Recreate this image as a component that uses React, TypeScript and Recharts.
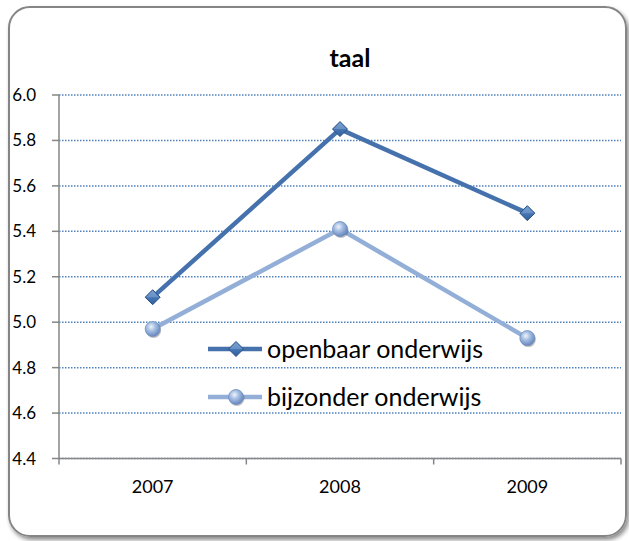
import { LineChart, Line, XAxis, YAxis, CartesianGrid, Legend } from "recharts";

const years = ["2007", "2008", "2009"];
const openbaar = [5.11, 5.85, 5.48];
const bijzonder = [4.97, 5.41, 4.93];
const yTicks = [4.4, 4.6, 4.8, 5.0, 5.2, 5.4, 5.6, 5.8, 6.0];

const series = [
  { key: "openbaar", name: "openbaar onderwijs", color: "#4572AD", marker: "diamond" },
  { key: "bijzonder", name: "bijzonder onderwijs", color: "#93AFD8", marker: "circle" },
];

const data = years.map((year, i) => ({
  year,
  openbaar: openbaar[i],
  bijzonder: bijzonder[i],
}));

const W = 629;
const H = 541;
const PLOT_LEFT = 59;
const PLOT_RIGHT = 621;
const HALF_BAND = (PLOT_RIGHT - PLOT_LEFT) / years.length / 2;

function Diamond({ cx, cy }: any) {
  if (cx == null || cy == null) return null;
  const s = 7.5;
  return (
    <g>
      <path
        d={`M${cx},${cy - s} L${cx + s},${cy} L${cx},${cy + s} L${cx - s},${cy} Z`}
        fill="url(#diamondFill)"
        stroke="#2a5485"
        strokeWidth={1}
      />
      <path
        d={`M${cx - s + 1},${cy} L${cx},${cy - s + 1} L${cx + s - 1},${cy} Z`}
        fill="rgba(255,255,255,0.18)"
      />
    </g>
  );
}

function Ball({ cx, cy }: any) {
  if (cx == null || cy == null) return null;
  return (
    <g>
      <circle cx={cx + 1} cy={cy + 1.5} r={7.5} fill="rgba(0,0,0,0.25)" />
      <circle cx={cx} cy={cy} r={7.5} fill="url(#ballFill)" stroke="#6f8fc2" strokeWidth={0.8} />
    </g>
  );
}

function Marker({ type, cx, cy }: any) {
  return type === "diamond" ? <Diamond cx={cx} cy={cy} /> : <Ball cx={cx} cy={cy} />;
}

// label at category centre, tick marks on the category boundaries
function XTick({ x, y, payload, index, visibleTicksCount }: any) {
  const last = index === visibleTicksCount - 1;
  return (
    <g>
      <line x1={x - HALF_BAND} x2={x - HALF_BAND} y1={y - 6} y2={y} stroke="#868686" strokeWidth={1.5} />
      {last && (
        <line x1={x + HALF_BAND} x2={x + HALF_BAND} y1={y - 6} y2={y} stroke="#868686" strokeWidth={1.5} />
      )}
      <text x={x} y={y} dy={28.5} textAnchor="middle" fontSize={18} fill="#000">
        {payload.value}
      </text>
    </g>
  );
}

function LegendBox() {
  return (
    <svg width={320} height={90}>
      {series.map((s, i) => {
        const cy = 17 + i * 48;
        return (
          <g key={s.key}>
            <line x1={3} x2={57} y1={cy} y2={cy} stroke={s.color} strokeWidth={4.5} />
            <Marker type={s.marker} cx={31} cy={cy} />
            <text x={62} y={cy} dy="0.35em" fontSize={25} fill="#000">
              {s.name}
            </text>
          </g>
        );
      })}
    </svg>
  );
}

export default function App() {
  return (
    <div style={{ position: "fixed", left: 0, top: 0, width: W, height: H, background: "#fff", fontFamily: "Lato, sans-serif" }}>
      <div
        style={{
          position: "absolute",
          left: 8,
          top: 6,
          width: 619,
          height: 531,
          boxSizing: "border-box",
          border: "2.5px solid #858585",
          borderRadius: 22,
          boxShadow: "2px 3px 4px rgba(0,0,0,0.45)",
        }}
      />
      <svg width={W} height={90} style={{ position: "absolute", left: 0, top: 0 }}>
        <text x={350} y={67} textAnchor="middle" fontSize={25} fontWeight="bold" fill="#000">
          taal
        </text>
      </svg>
      <div style={{ position: "absolute", left: 0, top: 0 }}>
        <LineChart width={W} height={H} data={data} margin={{ top: 95, right: W - PLOT_RIGHT, left: 0, bottom: 52.5 }}>
          <defs>
            <linearGradient id="diamondFill" x1="0" y1="0" x2="0" y2="1">
              <stop offset="0%" stopColor="#5f8fcc" />
              <stop offset="100%" stopColor="#2f5f9c" />
            </linearGradient>
            <radialGradient id="ballFill" cx="0.4" cy="0.35" r="0.65">
              <stop offset="0%" stopColor="#eef3fb" />
              <stop offset="45%" stopColor="#a3bde2" />
              <stop offset="100%" stopColor="#6886bd" />
            </radialGradient>
          </defs>
          <CartesianGrid vertical={false} stroke="#4F81BD" strokeDasharray="1.5 1.5" strokeWidth={1.5} />
          <XAxis
            dataKey="year"
            height={30}
            padding={{ left: HALF_BAND, right: HALF_BAND }}
            axisLine={{ stroke: "#868686", strokeWidth: 1.5 }}
            tickLine={false}
            tickSize={6}
            tickMargin={0}
            tick={<XTick />}
          />
          <YAxis
            width={PLOT_LEFT}
            domain={[4.4, 6.0]}
            ticks={yTicks}
            tickFormatter={(v: number) => v.toFixed(1)}
            axisLine={{ stroke: "#868686", strokeWidth: 1.5 }}
            tickLine={{ stroke: "#868686", strokeWidth: 1.5 }}
            tickSize={7}
            tickMargin={16}
            tick={{ fontSize: 17, fill: "#000" }}
          />
          {series.map((s) => (
            <Line
              key={s.key}
              dataKey={s.key}
              name={s.name}
              stroke={s.color}
              strokeWidth={4.5}
              dot={(p: any) => <Marker key={`${s.key}-${p.index}`} type={s.marker} cx={p.cx} cy={p.cy} />}
              activeDot={false}
              isAnimationActive={false}
            />
          ))}
          <Legend
            layout="horizontal"
            verticalAlign="middle"
            align="center"
            content={() => <LegendBox />}
            wrapperStyle={{ left: 205, top: 332, width: 320 }}
          />
        </LineChart>
      </div>
    </div>
  );
}
